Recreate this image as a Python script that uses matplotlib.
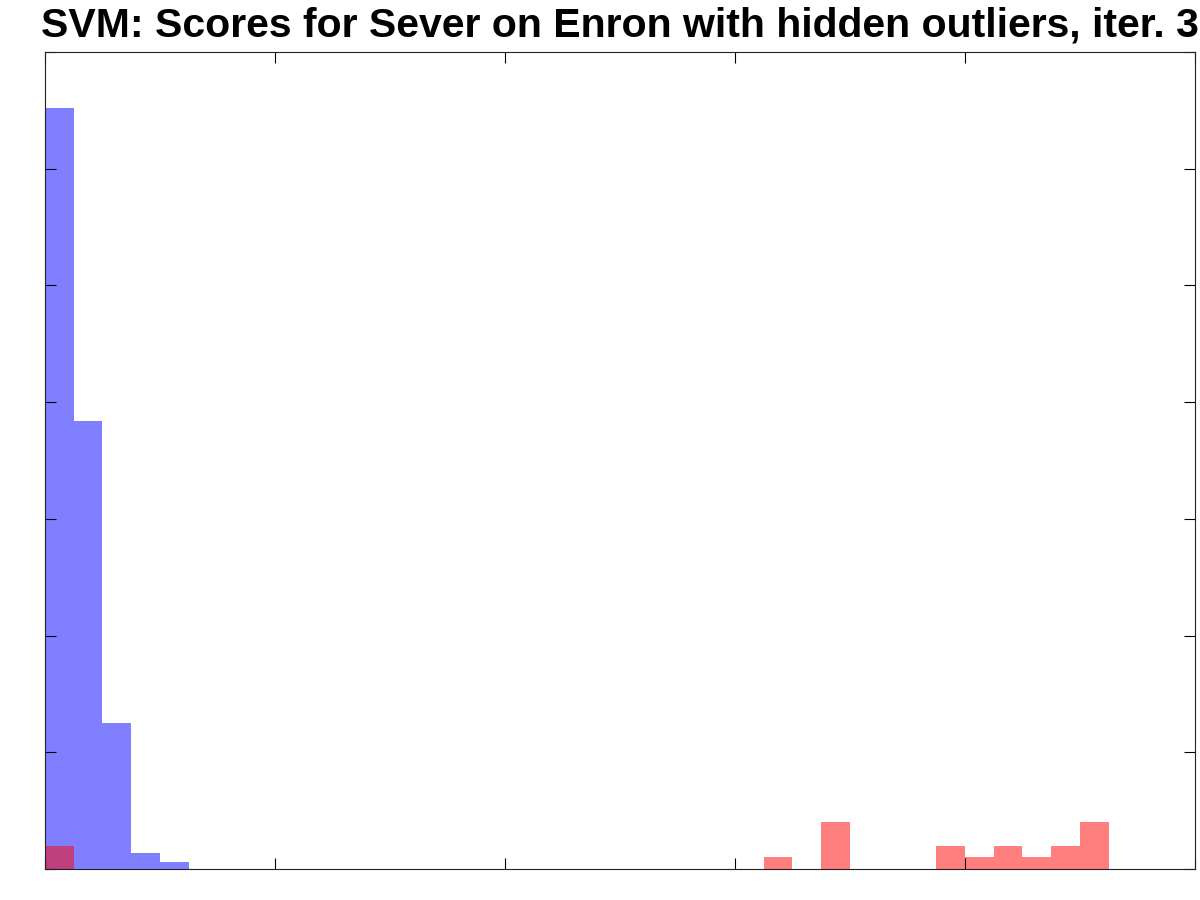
import numpy as np
import matplotlib
matplotlib.use('Agg')
import matplotlib.pyplot as plt

# histogram bins: 40 bins on [0, 1]
n_bins = 40
bin_edges = np.linspace(0.0, 1.0, n_bins + 1)

# heights (y axis 0..70)
blue_bins = [0, 1, 2, 3, 4]
blue_heights = [65.2, 38.4, 12.5, 1.35, 0.6]

red_bins = [0, 25, 27, 31, 32, 33, 34, 35, 36]
red_heights = [2, 1, 4, 2, 1, 2, 1, 2, 4]

fig = plt.figure(figsize=(12, 9), dpi=100)
ax = fig.add_axes([0.0375, 0.0344, 0.9583, 0.9078])

width = bin_edges[1] - bin_edges[0]
ax.bar(bin_edges[blue_bins], blue_heights, width=width, align='edge',
       color='blue', alpha=0.5, linewidth=0)
ax.bar(bin_edges[red_bins], red_heights, width=width, align='edge',
       color='red', alpha=0.5, linewidth=0)

ax.set_xlim(0, 1)
ax.set_ylim(0, 70)
ax.set_xticks(np.arange(0, 1.01, 0.2))
ax.set_yticks(np.arange(0, 71, 10))
ax.tick_params(direction='in', length=8, width=0.8, top=True, right=True,
               labelleft=False, labelbottom=False)
for s in ax.spines.values():
    s.set_linewidth(0.8)
    s.set_color('#222222')

ax.set_title('SVM: Scores for Sever on Enron with hidden outliers, iter. 3',
             fontsize=29.5, fontweight='bold', family='Liberation Sans', pad=11.5)

fig.savefig('out.png', dpi=100)
